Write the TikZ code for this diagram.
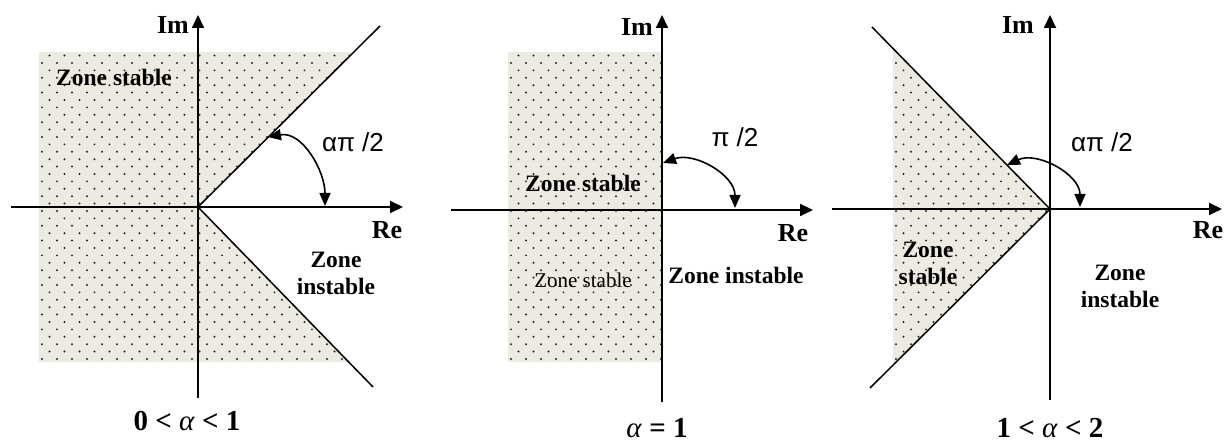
\documentclass[tikz,border=0pt]{standalone}
\usepackage{fontspec}
\setmainfont{Liberation Serif}
\newfontfamily\symfont{Liberation Sans}
\usepackage{tikz}
\usetikzlibrary{arrows.meta,calc}
\definecolor{sand}{RGB}{237,234,225}
\definecolor{speck}{RGB}{40,40,40}
\tikzset{
  axis/.style={-{Triangle[length=13pt,width=12pt]},line width=1.8pt},
  ray/.style={line width=1.5pt},
  turn/.style={{Triangle[length=13pt,width=11pt]}-{Triangle[length=13pt,width=11pt]},line width=1.6pt},
  zone/.style={font=\fontsize{23.5}{27}\selectfont\bfseries,align=center,inner sep=0pt},
  zonethin/.style={font=\fontsize{21}{24}\selectfont,inner sep=0pt},
  axlabel/.style={font=\fontsize{26}{30}\selectfont\bfseries,inner sep=0pt},
  anglelabel/.style={font=\fontsize{26}{30}\selectfont\symfont,inner sep=0pt},
  caselabel/.style={font=\fontsize{29}{33}\selectfont\bfseries,inner sep=0pt,anchor=base}
}
% staggered dot screen: left, bottom, columns, rows
\newcommand{\stipple}[4]{%
  \foreach \r in {0,...,#4}{\foreach \c in {0,...,#3}{
    \fill[speck] ({#1+15*\c+7.5*mod(\r,2)},{#2+7.4*\r}) circle (1.1);}}}

\begin{document}
\begin{tikzpicture}[x=1pt,y=1pt]
  \useasboundingbox (0,0) rectangle (1227,443);

  % --- 0 < alpha < 1
  \coordinate (o1) at (198,236);
  \coordinate (up1) at (380,417);
  \coordinate (dn1) at (373,56);
  \begin{scope}
    \clip (39,391) -- (353,391) -- (o1) -- (349,81) -- (39,81) -- cycle;
    \fill[sand] (39,81) rectangle (353,391);
    \stipple{42}{84}{21}{42}
  \end{scope}
  \draw[axis] (11,236) -- (403,236);
  \draw[axis] (198,45) -- (198,428);
  \draw[ray] (o1) -- (up1);
  \draw[ray] (o1) -- (dn1);
  \coordinate (a1s) at (268,306);
  \coordinate (a1e) at (325,237);
  \draw[turn] (a1s) to[out=10,in=90] (a1e);
  \node[axlabel] (im1) at (173,418) {Im};
  \node[axlabel] (re1) at (387,213) {Re};
  \node[anglelabel] (ang1) at (353,301) {απ /2};
  \node[zone] (st1) at (114,366) {Zone stable};
  \node[zone] (in1) at (336,170) {Zone\\instable};
  \node[caselabel] (case1) at (187,12) {0 < \textit{\mdseries α} < 1};

  % --- alpha = 1
  \coordinate (o2) at (662,233);
  \begin{scope}
    \clip (508,81) rectangle (662,391);
    \fill[sand] (508,81) rectangle (662,391);
    \stipple{511}{84}{10}{42}
  \end{scope}
  \draw[axis] (451,233) -- (813,233);
  \draw[axis] (662,41) -- (662,428);
  \coordinate (a2s) at (663,280);
  \coordinate (a2e) at (735,235);
  \draw[turn] (a2s) to[out=20,in=90] (a2e);
  \node[axlabel] (im2) at (637,416) {Im};
  \node[axlabel] (re2) at (793,210) {Re};
  \node[anglelabel] (ang2) at (735,306) {π /2};
  \node[zone] (st2) at (583,260) {Zone stable};
  \node[zonethin] (st2b) at (583,163) {Zone stable};
  \node[zone] (in2) at (736,168) {Zone instable};
  \node[caselabel] (case2) at (657,5) {\textit{\mdseries α} = 1};

  % --- 1 < alpha < 2
  \coordinate (o3) at (1050,234);
  \coordinate (up3) at (872,416);
  \coordinate (dn3) at (870,55);
  \begin{scope}
    \clip (893,394) -- (o3) -- (893,76) -- cycle;
    \fill[sand] (893,76) rectangle (1050,394);
    \stipple{896}{84}{10}{42}
  \end{scope}
  \draw[axis] (832,234) -- (1222,234);
  \draw[axis] (1050,43) -- (1050,428);
  \draw[ray] (o3) -- (up3);
  \draw[ray] (o3) -- (dn3);
  \coordinate (a3s) at (1007,278);
  \coordinate (a3e) at (1080,236);
  \draw[turn] (a3s) to[out=25,in=90] (a3e);
  \node[axlabel] (im3) at (1018,418) {Im};
  \node[axlabel] (re3) at (1208,213) {Re};
  \node[anglelabel] (ang3) at (1102,301) {απ /2};
  \node[zone] (st3) at (928,180) {Zone\\stable};
  \node[zone] (in3) at (1120,157) {Zone\\instable};
  \node[caselabel] (case3) at (1050,5) {1 < \textit{\mdseries α} < 2};
\end{tikzpicture}
\end{document}
